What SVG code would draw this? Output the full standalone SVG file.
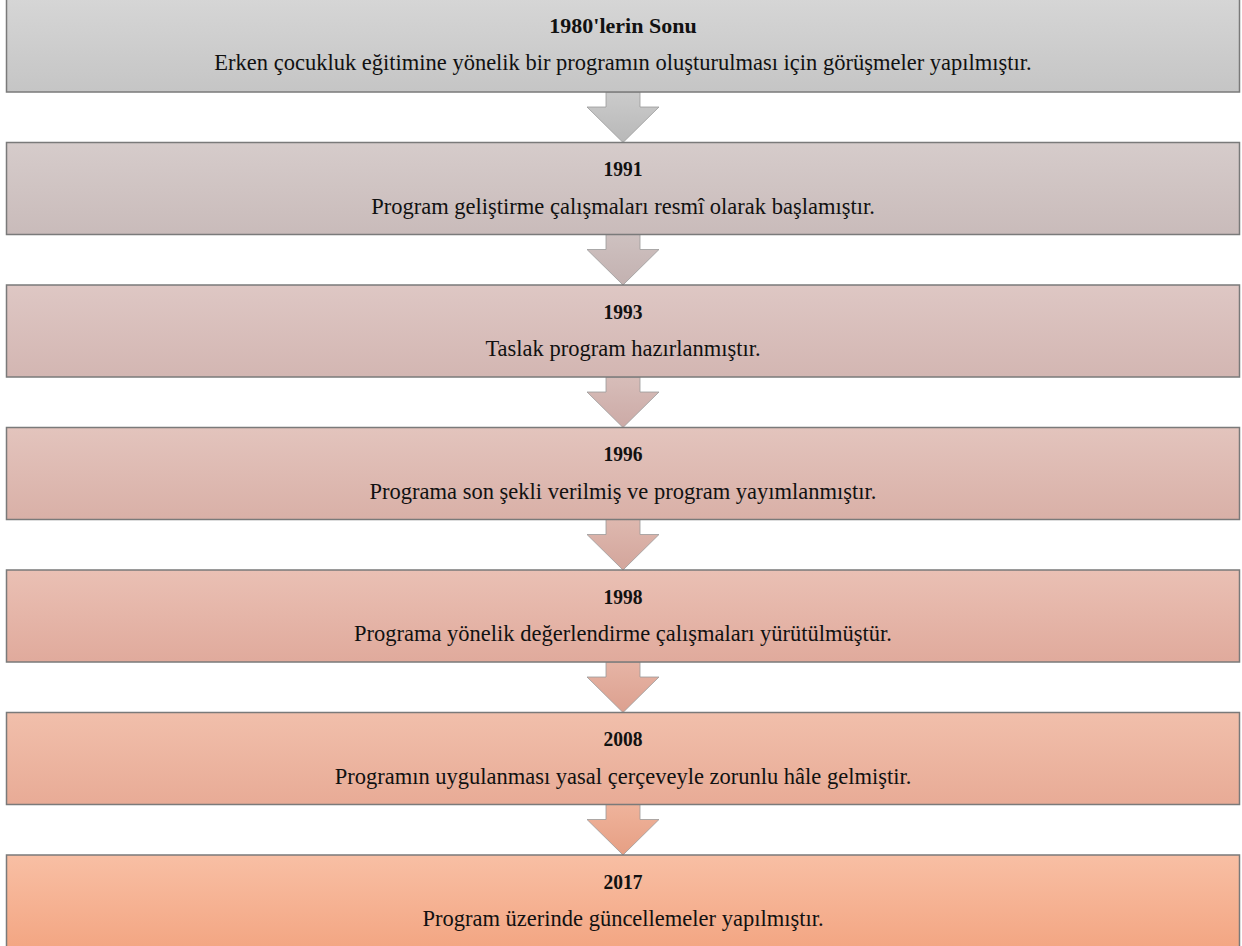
<svg xmlns="http://www.w3.org/2000/svg" width="1242" height="946" viewBox="0 0 1242 946">
<defs>
<linearGradient id="g1" x1="0" y1="0" x2="0" y2="1"><stop offset="0" stop-color="#d6d6d6"/><stop offset="1" stop-color="#c5c5c5"/></linearGradient>
<linearGradient id="g2" x1="0" y1="0" x2="0" y2="1"><stop offset="0" stop-color="#d6cccb"/><stop offset="1" stop-color="#c9bbba"/></linearGradient>
<linearGradient id="g3" x1="0" y1="0" x2="0" y2="1"><stop offset="0" stop-color="#dec7c4"/><stop offset="1" stop-color="#d3b6b2"/></linearGradient>
<linearGradient id="g4" x1="0" y1="0" x2="0" y2="1"><stop offset="0" stop-color="#e3c4bd"/><stop offset="1" stop-color="#d9b0a7"/></linearGradient>
<linearGradient id="g5" x1="0" y1="0" x2="0" y2="1"><stop offset="0" stop-color="#eac0b4"/><stop offset="1" stop-color="#e0aa9c"/></linearGradient>
<linearGradient id="g6" x1="0" y1="0" x2="0" y2="1"><stop offset="0" stop-color="#f1bfab"/><stop offset="1" stop-color="#e8ab96"/></linearGradient>
<linearGradient id="g7" x1="0" y1="0" x2="0" y2="1"><stop offset="0" stop-color="#f8bfa4"/><stop offset="1" stop-color="#f3a683"/></linearGradient>
<linearGradient id="a1" x1="0" y1="0" x2="0" y2="1"><stop offset="0" stop-color="#cbcbcb"/><stop offset="1" stop-color="#b8b8b8"/></linearGradient>
<linearGradient id="a2" x1="0" y1="0" x2="0" y2="1"><stop offset="0" stop-color="#cec1c0"/><stop offset="1" stop-color="#c3b1b0"/></linearGradient>
<linearGradient id="a3" x1="0" y1="0" x2="0" y2="1"><stop offset="0" stop-color="#d7bdb9"/><stop offset="1" stop-color="#ccaaa6"/></linearGradient>
<linearGradient id="a4" x1="0" y1="0" x2="0" y2="1"><stop offset="0" stop-color="#deb8af"/><stop offset="1" stop-color="#d3a59b"/></linearGradient>
<linearGradient id="a5" x1="0" y1="0" x2="0" y2="1"><stop offset="0" stop-color="#e6b4a5"/><stop offset="1" stop-color="#dca08f"/></linearGradient>
<linearGradient id="a6" x1="0" y1="0" x2="0" y2="1"><stop offset="0" stop-color="#efb39b"/><stop offset="1" stop-color="#e69f84"/></linearGradient>
</defs>
<style>
.box{stroke:#7a7a7a;stroke-width:1.5}
.arr{stroke:#9a9a9a;stroke-width:0.8}
.t{font-family:"Liberation Serif","Times New Roman",serif;font-weight:bold;font-size:22px;fill:#111;text-anchor:middle}
.b{font-family:"Liberation Serif","Times New Roman",serif;font-size:22.5px;fill:#111;text-anchor:middle}
</style>
<g id="connectors">
<path class="arr" fill="url(#a1)" d="M606,92 H640 V107 H659 L623,142.5 L587,107 H606 Z"/>
<path class="arr" fill="url(#a2)" d="M606,234.5 H640 V249.5 H659 L623,285 L587,249.5 H606 Z"/>
<path class="arr" fill="url(#a3)" d="M606,377 H640 V392 H659 L623,427.5 L587,392 H606 Z"/>
<path class="arr" fill="url(#a4)" d="M606,519.5 H640 V534.5 H659 L623,570 L587,534.5 H606 Z"/>
<path class="arr" fill="url(#a5)" d="M606,662 H640 V677 H659 L623,712.5 L587,677 H606 Z"/>
<path class="arr" fill="url(#a6)" d="M606,804.5 H640 V819.5 H659 L623,855 L587,819.5 H606 Z"/>
</g>
<g id="n1"><rect class="box" x="6.5" y="-2" width="1233" height="94" fill="url(#g1)"/><text class="t" x="623" y="32.5">1980'lerin Sonu</text><text class="b" x="623" y="70">Erken çocukluk eğitimine yönelik bir programın oluşturulması için görüşmeler yapılmıştır.</text></g>
<g id="n2"><rect class="box" x="6.5" y="142.5" width="1233" height="92" fill="url(#g2)"/><text class="t" x="623" y="176" textLength="39" lengthAdjust="spacingAndGlyphs">1991</text><text class="b" x="623" y="213.5">Program geliştirme çalışmaları resmî olarak başlamıştır.</text></g>
<g id="n3"><rect class="box" x="6.5" y="285" width="1233" height="92" fill="url(#g3)"/><text class="t" x="623" y="318.5" textLength="39" lengthAdjust="spacingAndGlyphs">1993</text><text class="b" x="623" y="356">Taslak program hazırlanmıştır.</text></g>
<g id="n4"><rect class="box" x="6.5" y="427.5" width="1233" height="92" fill="url(#g4)"/><text class="t" x="623" y="461" textLength="39" lengthAdjust="spacingAndGlyphs">1996</text><text class="b" x="623" y="498.5">Programa son şekli verilmiş ve program yayımlanmıştır.</text></g>
<g id="n5"><rect class="box" x="6.5" y="570" width="1233" height="92" fill="url(#g5)"/><text class="t" x="623" y="603.5" textLength="39" lengthAdjust="spacingAndGlyphs">1998</text><text class="b" x="623" y="641">Programa yönelik değerlendirme çalışmaları yürütülmüştür.</text></g>
<g id="n6"><rect class="box" x="6.5" y="712.5" width="1233" height="92" fill="url(#g6)"/><text class="t" x="623" y="746" textLength="39" lengthAdjust="spacingAndGlyphs">2008</text><text class="b" x="623" y="783.5">Programın uygulanması yasal çerçeveyle zorunlu hâle gelmiştir.</text></g>
<g id="n7"><rect class="box" x="6.5" y="855" width="1233" height="92" fill="url(#g7)"/><text class="t" x="623" y="888.5" textLength="39" lengthAdjust="spacingAndGlyphs">2017</text><text class="b" x="623" y="926">Program üzerinde güncellemeler yapılmıştır.</text></g>
</svg>
